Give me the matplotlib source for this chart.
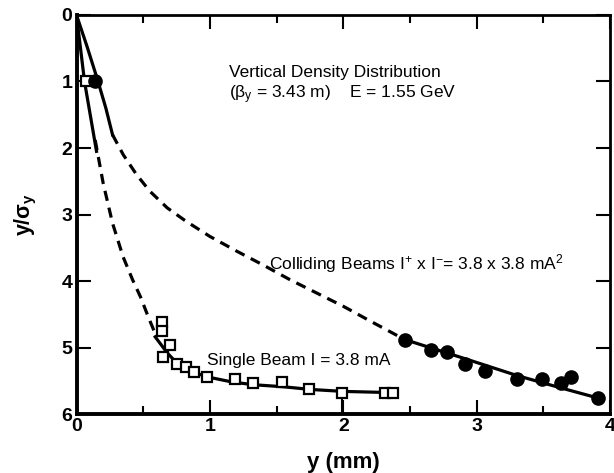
import matplotlib

matplotlib.use("Agg")
import matplotlib.pyplot as plt
from matplotlib.ticker import MultipleLocator

plt.rcParams["font.family"] = ["Liberation Sans", "DejaVu Sans"]
plt.rcParams["mathtext.default"] = "regular"

# single beam, open squares
single_x = [0.07, 0.64, 0.64, 0.70, 0.65, 0.75, 0.82, 0.88, 0.98, 1.19, 1.32, 1.54, 1.74, 1.99, 2.31, 2.37]
single_y = [1.00, 4.62, 4.75, 4.96, 5.14, 5.25, 5.29, 5.37, 5.44, 5.48, 5.53, 5.52, 5.63, 5.69, 5.68, 5.68]

# colliding beams, filled circles
coll_x = [0.14, 2.46, 2.66, 2.78, 2.91, 3.06, 3.30, 3.49, 3.63, 3.71, 3.91]
coll_y = [1.00, 4.88, 5.03, 5.06, 5.25, 5.35, 5.48, 5.47, 5.54, 5.45, 5.76]

# guide curves
single_solid_lo_x = [0.0, 0.06, 0.15]
single_solid_lo_y = [0.0, 1.0, 2.05]
single_dash_x = [0.14, 0.20, 0.27, 0.35, 0.42, 0.48, 0.54, 0.60]
single_dash_y = [1.88, 2.53, 3.13, 3.64, 3.98, 4.24, 4.55, 4.84]
single_fit_x = [0.59, 0.68, 0.75, 0.87, 1.00, 1.17, 1.33, 1.55, 1.75, 2.00, 2.40]
single_fit_y = [4.84, 5.08, 5.23, 5.37, 5.45, 5.52, 5.56, 5.59, 5.63, 5.66, 5.68]

coll_solid_lo_x = [0.0, 0.08, 0.16, 0.22, 0.27]
coll_solid_lo_y = [0.0, 0.48, 0.99, 1.40, 1.80]
coll_dash_x = [0.27, 0.35, 0.45, 0.55, 0.68, 0.82, 1.00, 1.20, 1.40, 1.60, 1.80, 2.00, 2.20, 2.46]
coll_dash_y = [1.80, 2.10, 2.40, 2.65, 2.90, 3.10, 3.33, 3.55, 3.76, 3.98, 4.18, 4.38, 4.60, 4.88]
coll_fit_x = [2.46, 2.90, 3.30, 3.60, 3.91]
coll_fit_y = [4.88, 5.16, 5.42, 5.59, 5.76]

errbar_x = [1.99]
errbar_top = [5.69]
errbar_bottom = [6.0]

fig = plt.figure(figsize=(6.14, 4.73), dpi=100)
ax = fig.add_axes([0.1246, 0.1247, 0.869, 0.8436])

lw = 2.3
ax.plot(coll_solid_lo_x, coll_solid_lo_y, color="black", lw=lw)
ax.plot(coll_dash_x, coll_dash_y, color="black", lw=lw, dashes=(3.2, 2.2))
ax.plot(coll_fit_x, coll_fit_y, color="black", lw=lw)
ax.plot(single_solid_lo_x, single_solid_lo_y, color="black", lw=lw)
ax.plot(single_dash_x, single_dash_y, color="black", lw=lw, dashes=(3.2, 2.2))
ax.plot(single_fit_x, single_fit_y, color="black", lw=lw)
ax.vlines(errbar_x, errbar_top, errbar_bottom, color="black", lw=1.5)

ax.plot(single_x, single_y, ls="none", marker="s", ms=7.8, mfc="white", mec="black", mew=1.6, zorder=5)
ax.plot(coll_x, coll_y, ls="none", marker="o", ms=9.5, mfc="black", mec="black", zorder=5)

ax.set_xlim(0, 4)
ax.set_ylim(6, 0)
ax.xaxis.set_major_locator(MultipleLocator(1))
ax.xaxis.set_minor_locator(MultipleLocator(0.5))
ax.yaxis.set_major_locator(MultipleLocator(1))
ax.tick_params(which="both", direction="in", top=True, right=True, width=1.5, labelsize=14)
ax.tick_params(which="major", length=10, pad=3)
ax.tick_params(which="minor", length=6)
for lab in ax.get_xticklabels() + ax.get_yticklabels():
    lab.set_fontweight("bold")
for side in ["left", "bottom"]:
    ax.spines[side].set_linewidth(2.8)
for side in ["top", "right"]:
    ax.spines[side].set_linewidth(2.0)

ax.set_xlabel("y (mm)", fontsize=16, fontweight="bold", labelpad=12)
ax.set_ylabel("y/σ$_y$", fontsize=15.5, fontweight="bold", labelpad=16)

note_size = 12.5
ax.text(1.14, 0.87, "Vertical Density Distribution", fontsize=note_size, va="center", ha="left")
ax.text(1.14, 1.20, "(β$_y$ = 3.43 m)    E = 1.55 GeV", fontsize=note_size, va="center", ha="left")
ax.text(1.44, 3.73, "Colliding Beams I$^{+}$ x I$^{-}$= 3.8 x 3.8 mA$^{2}$", fontsize=note_size, va="center", ha="left")
ax.text(0.98, 5.19, "Single Beam I = 3.8 mA", fontsize=note_size, va="center", ha="left")

fig.savefig("out.png", dpi=100)
